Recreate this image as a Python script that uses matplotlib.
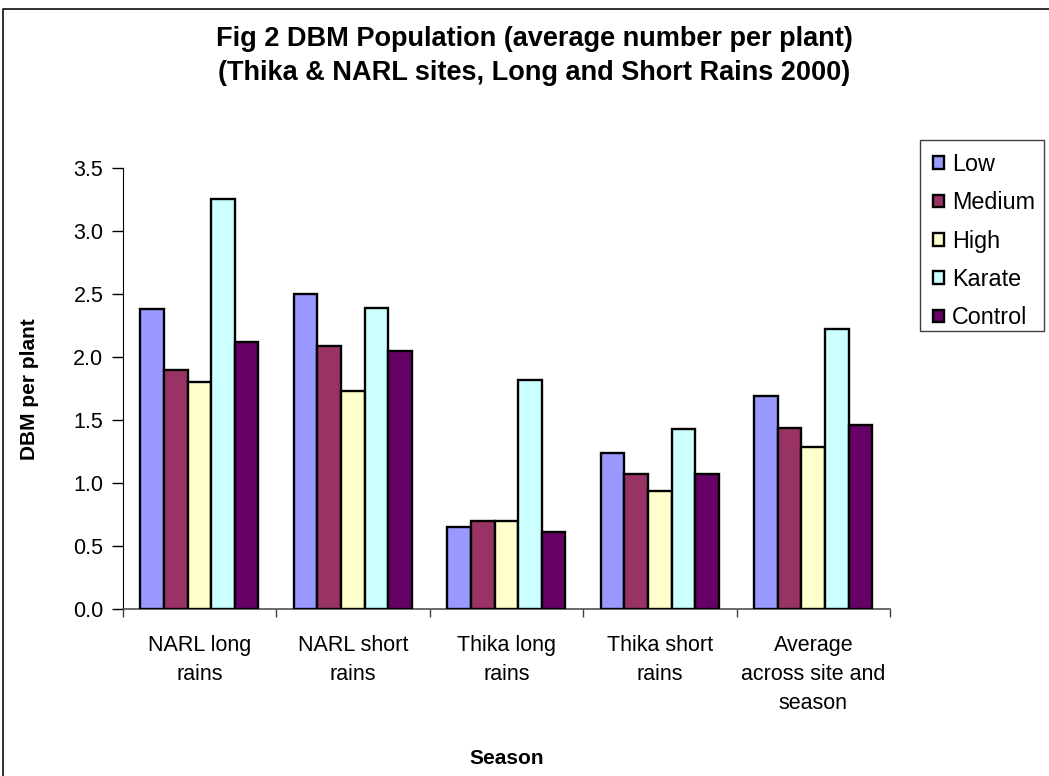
import numpy as np
import matplotlib
matplotlib.use("Agg")
import matplotlib.pyplot as plt
from matplotlib.lines import Line2D
from matplotlib.patches import Rectangle

plt.rcParams['font.family'] = ['Liberation Sans', 'DejaVu Sans']

# Mean DBM counts per plant for each treatment and season
seasons = ["NARL long\nrains", "NARL short\nrains", "Thika long\nrains",
           "Thika short\nrains", "Average\nacross site and\nseason"]
treatments = ["Low", "Medium", "High", "Karate", "Control"]
low = [2.38, 2.50, 0.65, 1.24, 1.69]
medium = [1.90, 2.09, 0.70, 1.07, 1.44]
high = [1.80, 1.73, 0.70, 0.94, 1.29]
karate = [3.26, 2.39, 1.82, 1.43, 2.22]
control = [2.12, 2.05, 0.61, 1.07, 1.46]
yticks = [0.0, 0.5, 1.0, 1.5, 2.0, 2.5, 3.0, 3.5]

series = [low, medium, high, karate, control]
colors = ["#9999FF", "#993366", "#FFFFCC", "#CCFFFF", "#660066"]

W, H = 1049, 776
fig = plt.figure(figsize=(W / 100, H / 100), dpi=100)
ax = fig.add_axes([122.7 / W, 1 - 609 / H, (890 - 122.7) / W, (609 - 168.3) / H])

x = np.arange(len(seasons))
n = len(series)
bw = 1 / (n + 1.5)
for i, (vals, c, name) in enumerate(zip(series, colors, treatments)):
    ax.bar(x + (i - (n - 1) / 2) * bw, vals, width=bw, color=c,
           edgecolor="black", linewidth=1.7, label=name, zorder=3)

ax.set_xlim(-0.5, len(seasons) - 0.5)
ax.set_ylim(0, 3.5)
ax.set_yticks(yticks)
ax.set_yticklabels([f"{v:.1f}" for v in yticks], fontsize=15.5)
ax.tick_params(axis="y", direction="out", length=8, width=1, pad=6)

# category ticks sit on the group boundaries, labels in the middle
ax.set_xticks(np.arange(len(seasons) + 1) - 0.5)
ax.set_xticklabels([])
ax.tick_params(axis="x", direction="out", length=6, width=1, color="#404040")
ax.set_xticks(x, minor=True)
ax.set_xticklabels(seasons, minor=True, fontsize=15.5, linespacing=1.5)
ax.tick_params(axis="x", which="minor", length=0, pad=19)

for s in ["top", "right"]:
    ax.spines[s].set_visible(False)
ax.spines["left"].set_color("black")
ax.spines["bottom"].set_color("#505050")
ax.spines["bottom"].set_linewidth(1.2)

ax.set_ylabel("DBM per plant", fontsize=15, fontweight="bold")
ax.yaxis.set_label_coords((39 - 122.7) / (890 - 122.7), 0.5)
fig.text(507 / W, 1 - 758 / H, "Season", fontsize=15, fontweight="bold",
         ha="center", va="center")

fig.text(534 / W, 1 - 56 / H,
         "Fig 2 DBM Population (average number per plant)\n"
         "(Thika & NARL sites, Long and Short Rains 2000)",
         fontsize=19.5, fontweight="bold", ha="center", va="center",
         linespacing=1.36)

# legend entries without their own frame; the box is drawn separately
leg = fig.legend(loc="upper left", bbox_to_anchor=(920 / W, 1 - 140 / H),
                 fontsize=16.8, frameon=False,
                 handlelength=0.46, handleheight=0.46, handletextpad=0.35,
                 labelspacing=0.66, borderpad=0.55, borderaxespad=0)
fig.add_artist(Rectangle((920 / W, 1 - 331 / H), (1044 - 920) / W, (331 - 140) / H,
                         transform=fig.transFigure, facecolor="none",
                         edgecolor="#404040", linewidth=1.0))

# chart area border (top and left edges)
fig.add_artist(Line2D([2.5 / W, 2.5 / W, 1], [0, 1 - 9 / H, 1 - 9 / H],
                      transform=fig.transFigure, color="#202020", linewidth=1.3))

fig.savefig("out.png", dpi=100)
